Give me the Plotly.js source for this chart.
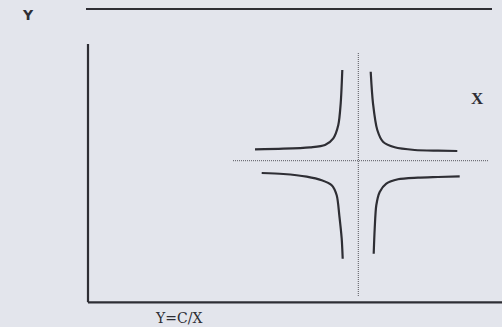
<!DOCTYPE html>
<html>
<head>
<meta charset="utf-8">
<script src="https://cdn.plot.ly/plotly-3.0.1.min.js"></script>
<style>html,body{margin:0;padding:0;background:#e3e5ec;}#chart{width:502px;height:327px;}</style>
</head>
<body>
<div id="chart"></div>
<script>
// Branch points (units relative to the dotted-line crossing)
var ulX = [-10.33, -7.50, -4.83, -3.33, -2.50, -2.00, -1.76, -1.60];
var ulY = [1.14, 1.20, 1.34, 1.57, 2.24, 3.57, 5.74, 9.07];
var urX = [1.24, 1.47, 1.90, 2.47, 3.64, 5.64, 7.97, 9.90];
var urY = [8.90, 5.74, 3.07, 1.90, 1.34, 1.07, 1.00, 0.97];
var llX = [-9.66, -7.50, -5.16, -3.66, -2.66, -2.16, -1.90, -1.66, -1.56];
var llY = [-1.23, -1.33, -1.60, -1.96, -2.46, -3.46, -5.46, -7.80, -9.80];
var lrX = [1.54, 1.64, 1.80, 2.14, 2.80, 3.97, 5.97, 7.97, 10.14];
var lrY = [-9.30, -6.80, -4.46, -3.13, -2.30, -1.86, -1.70, -1.63, -1.56];

var axisLabelY = "Y";
var axisLabelX = "X";
var captionText = "Y=C/X";

var ink = "#2e2e34";
function branch(x, y) {
  return {x: x, y: y, type: "scatter", mode: "lines",
    line: {color: ink, width: 2.2, shape: "spline", smoothing: 0.8},
    hoverinfo: "skip", showlegend: false};
}

var data = [branch(ulX, ulY), branch(urX, urY), branch(llX, llY), branch(lrX, lrY)];

var layout = {
  width: 502, height: 327,
  margin: {l: 0, r: 0, t: 0, b: 0},
  paper_bgcolor: "#e3e5ec",
  plot_bgcolor: "#e3e5ec",
  showlegend: false,
  xaxis: {range: [-35.83, 14.37], visible: false, fixedrange: true},
  yaxis: {range: [-16.63, 16.07], visible: false, fixedrange: true},
  shapes: [
    // dotted reference lines
    {type: "line", xref: "x", yref: "y", x0: 0, x1: 0, y0: 10.77, y1: -13.63,
     line: {color: "#55555d", width: 1, dash: "1px,1px"}},
    {type: "line", xref: "x", yref: "y", x0: -12.53, x1: 12.97, y0: 0, y1: 0,
     line: {color: "#55555d", width: 1, dash: "1px,1px"}},
    // frame lines
    {type: "line", xref: "x", yref: "y", x0: -27.03, x1: -27.03, y0: 11.67, y1: -14.16,
     line: {color: ink, width: 2.2}},
    {type: "line", xref: "x", yref: "y", x0: -27.03, x1: 14.37, y0: -14.16, y1: -14.16,
     line: {color: ink, width: 2.2}},
    {type: "line", xref: "x", yref: "y", x0: -27.23, x1: 13.37, y0: 15.17, y1: 15.17,
     line: {color: ink, width: 2.2}}
  ],
  annotations: [
    {text: "<b>" + axisLabelY + "</b>", xref: "paper", yref: "paper", x: 28/502, y: 1 - 15/327,
     xanchor: "center", yanchor: "middle", showarrow: false,
     font: {family: "DejaVu Sans", size: 14, color: ink}},
    {text: "<b>" + axisLabelX + "</b>", xref: "paper", yref: "paper", x: 477.5/502, y: 1 - 99/327,
     xanchor: "center", yanchor: "middle", showarrow: false,
     font: {family: "Liberation Serif", size: 17, color: ink}},
    {text: captionText, xref: "paper", yref: "paper", x: 178.5/502, y: 0,
     xanchor: "center", yanchor: "bottom", showarrow: false, borderpad: 0,
     font: {family: "DejaVu Serif", size: 14, color: ink}}
  ]
};

Plotly.newPlot("chart", data, layout, {staticPlot: true, displayModeBar: false});
</script>
</body>
</html>
